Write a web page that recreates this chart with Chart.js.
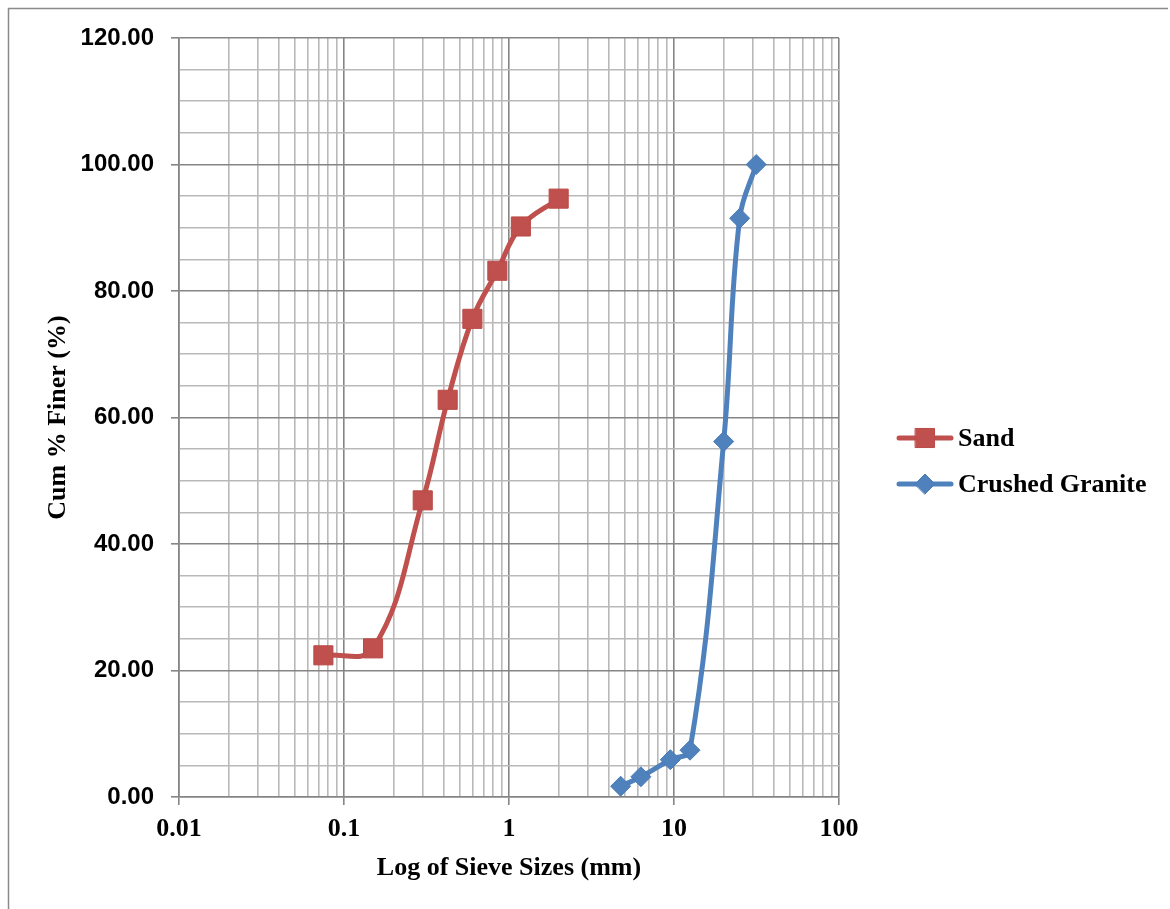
<!DOCTYPE html>
<html>
<head>
<meta charset="utf-8">
<title>Sieve analysis</title>
<script src="https://cdn.jsdelivr.net/npm/chart.js@4/dist/chart.umd.min.js"></script>
<style>
  html, body { margin: 0; padding: 0; background: #fff; }
  canvas { display: block; }
</style>
</head>
<body>
<canvas id="grading" width="1170" height="909"></canvas>
<script>
// sieve sizes (mm) and cumulative % passing
const sandSize = [0.075, 0.15, 0.3, 0.425, 0.6, 0.85, 1.18, 2.0];
const sandFiner = [22.4, 23.5, 46.9, 62.8, 75.6, 83.2, 90.2, 94.6];
const graniteSize = [4.75, 6.3, 9.5, 12.5, 20, 25, 31.5];
const graniteFiner = [1.7, 3.2, 5.9, 7.4, 56.2, 91.5, 100.0];

const xDecades = [0.01, 0.1, 1, 10, 100];
const yMajorStep = 20;

const SERIF = '"Liberation Serif", "Times New Roman", serif';
const SANS = '"Liberation Sans", Arial, sans-serif';
const MAJOR = '#858585';
const MINOR = '#b9b9b9';

function toPoints(xs, ys) {
    return xs.map((x, i) => ({ x: x, y: ys[i] }));
}

// 1..9 in every decade, so the log grid gets its minor lines
function logTicks() {
    const ticks = [];
    for (let d = 0; d < xDecades.length - 1; d++) {
        for (let k = 1; k <= 9; k++) {
            ticks.push({ value: +(xDecades[d] * k).toPrecision(3) });
        }
    }
    ticks.push({ value: xDecades[xDecades.length - 1] });
    return ticks;
}

// thin frame on the left and top edges
const framePlugin = {
    id: 'frame',
    beforeDraw(chart) {
        const ctx = chart.ctx;
        ctx.save();
        ctx.strokeStyle = '#8a8a8a';
        ctx.lineWidth = 1.5;
        ctx.beginPath();
        ctx.moveTo(8.5, chart.height);
        ctx.lineTo(8.5, 8.5);
        ctx.lineTo(chart.width - 2, 8.5);
        ctx.stroke();
        ctx.restore();
    }
};

// line + marker legend to the right of the plot
const sideLegend = {
    id: 'sideLegend',
    afterDraw(chart) {
        const ctx = chart.ctx;
        const rows = [438, 484];
        chart.data.datasets.forEach((ds, i) => {
            const y = rows[i];
            ctx.save();
            ctx.strokeStyle = ds.borderColor;
            ctx.lineWidth = ds.borderWidth;
            ctx.lineCap = 'round';
            ctx.beginPath();
            ctx.moveTo(899, y);
            ctx.lineTo(951, y);
            ctx.stroke();
            ctx.fillStyle = ds.pointBackgroundColor;
            ctx.strokeStyle = ds.pointBorderColor;
            ctx.lineWidth = 1;
            Chart.helpers.drawPoint(ctx, {
                pointStyle: ds.pointStyle,
                radius: ds.pointRadius,
                borderWidth: 1,
                rotation: 0
            }, 925, y);
            ctx.fillStyle = '#000';
            ctx.font = 'bold 26px ' + SERIF;
            ctx.textBaseline = 'middle';
            ctx.textAlign = 'left';
            ctx.fillText(ds.label, 958, y + 1);
            ctx.restore();
        });
    }
};

new Chart(document.getElementById('grading'), {
    type: 'line',
    data: {
        datasets: [
            {
                label: 'Sand',
                data: toPoints(sandSize, sandFiner),
                borderColor: '#c0504d',
                borderWidth: 5,
                pointStyle: 'rect',
                pointRadius: 13.5,
                pointBackgroundColor: '#c0504d',
                pointBorderColor: '#b94a47',
                pointBorderWidth: 1,
                tension: 0.4,
                fill: false
            },
            {
                label: 'Crushed Granite',
                data: toPoints(graniteSize, graniteFiner),
                borderColor: '#4f81bd',
                borderWidth: 5,
                pointStyle: 'rectRot',
                pointRadius: 10,
                pointBackgroundColor: '#4f81bd',
                pointBorderColor: '#4a7ab4',
                pointBorderWidth: 1,
                tension: 0.4,
                fill: false
            }
        ]
    },
    options: {
        responsive: false,
        animation: false,
        devicePixelRatio: 1,
        layout: { padding: { left: 0, top: 38, right: 331, bottom: 0 } },
        plugins: {
            legend: { display: false },
            tooltip: { enabled: false }
        },
        scales: {
            x: {
                type: 'logarithmic',
                min: 0.01,
                max: 100,
                afterBuildTicks(axis) { axis.ticks = logTicks(); },
                afterFit(axis) { axis.height = 112; },
                ticks: {
                    autoSkip: false,
                    maxRotation: 0,
                    padding: 9,
                    color: '#000',
                    font: { family: SERIF, size: 26, weight: 'bold' },
                    callback: (v) => xDecades.includes(v) ? String(v) : ''
                },
                grid: {
                    lineWidth: 1.6,
                    tickLength: 8,
                    color: (c) => xDecades.includes(c.tick && c.tick.value) ? MAJOR : MINOR,
                    tickColor: (c) => xDecades.includes(c.tick && c.tick.value) ? MAJOR : 'rgba(0,0,0,0)'
                },
                border: { color: MAJOR, width: 1.6 },
                title: {
                    display: true,
                    text: 'Log of Sieve Sizes (mm)',
                    color: '#000',
                    font: { family: SERIF, size: 26, weight: 'bold' },
                    padding: { top: 0, bottom: 25 }
                }
            },
            y: {
                min: 0,
                max: 120,
                afterFit(axis) { axis.width = 179; },
                ticks: {
                    stepSize: 5,
                    autoSkip: false,
                    padding: 17,
                    color: '#000',
                    font: { family: SANS, size: 24, weight: 'bold' },
                    callback: (v) => v % yMajorStep === 0 ? v.toFixed(2) : ''
                },
                grid: {
                    lineWidth: 1.6,
                    tickLength: 8,
                    color: (c) => c.tick && c.tick.value % yMajorStep === 0 ? MAJOR : MINOR,
                    tickColor: (c) => c.tick && c.tick.value % yMajorStep === 0 ? MAJOR : 'rgba(0,0,0,0)'
                },
                border: { color: MAJOR, width: 1.6 },
                title: {
                    display: true,
                    text: 'Cum % Finer (%)',
                    color: '#000',
                    font: { family: SERIF, size: 26, weight: 'bold' },
                    padding: { top: 43, bottom: 0 }
                }
            }
        }
    },
    plugins: [framePlugin, sideLegend]
});
</script>
</body>
</html>
